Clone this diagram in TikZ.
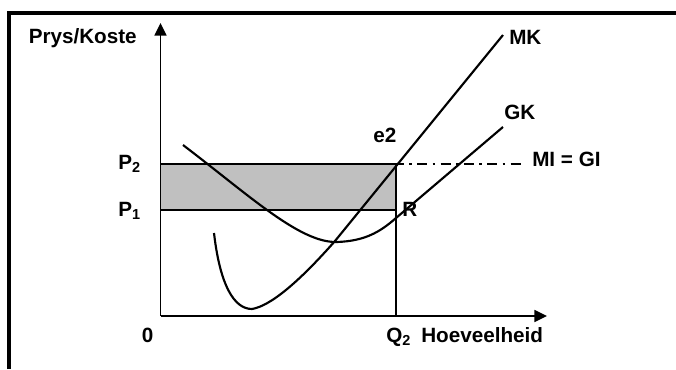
\documentclass[tikz,border=0pt]{standalone}
\usepackage{fontspec}
\setmainfont{Liberation Sans}
\usepackage{tikz}
\usetikzlibrary{arrows.meta, positioning, calc}
\definecolor{profitgray}{RGB}{192,192,192}
\tikzset{
  axis/.style={-{Triangle[length=9.5pt,width=9pt]}, line width=1.2pt},
  curve/.style={line width=1.6pt},
  guide/.style={line width=1.2pt},
  dashdot/.style={line width=1.2pt, dash pattern=on 7.5pt off 4pt on 2pt off 4pt},
  lbl/.style={font=\fontsize{15.5}{18}\selectfont\bfseries, inner sep=0pt}
}

\begin{document}
\begin{tikzpicture}[x=0.75pt, y=-0.75pt]
  \useasboundingbox (0,0) rectangle (676,369);

  % Frame
  \draw[line width=3pt] (9,369) -- (9,13) -- (676,13);

  % Points
  \coordinate (O) at (160.5,316);
  \coordinate (ytip) at (160.5,23);
  \coordinate (xtip) at (547,316);
  \coordinate (p2) at (160.5,164);
  \coordinate (p1) at (160.5,210);
  \coordinate (e2) at (396,164);
  \coordinate (r) at (396,210);
  \coordinate (q2) at (396,316);
  \coordinate (mig) at (523,164);

  % Profit area
  \fill[profitgray] (p2) rectangle (r);
  \draw[dashdot] (p2) -- (mig);
  \draw[guide] (p2) -- (e2);
  \draw[guide] (p1) -- (r);
  \draw[guide, line width=0.9pt] (e2) -- (q2);

  % Axes
  \draw[axis] (O) -- (ytip);
  \draw[axis] (O) -- (xtip);

  % MK
  \coordinate (mkS) at (214,233);
  \coordinate (mkMin) at (252,309);
  \coordinate (mkX) at (335,241);
  \coordinate (mkE) at (503,35);
  \draw[curve] (mkS) .. controls (220,285) and (234,309) .. (mkMin)
    .. controls (270,306) and (298,283) .. (mkX) -- (mkE);

  % GK
  \coordinate (gkS) at (183,145);
  \coordinate (gkMin) at (337,242);
  \coordinate (gkQ) at (396,218);
  \coordinate (gkE) at (503,127);
  \draw[curve] (gkS) .. controls (250,196) and (300,243) .. (gkMin)
    .. controls (365,241) and (380,232) .. (gkQ) -- (gkE);

  % Labels
  \node[lbl, anchor=base east] (yl) at (137,43.5) {Prys/Koste};
  \node[lbl, anchor=base] (zero) at (147.5,342) {0};
  \node[lbl, anchor=base west] (q2l) at (386,342) {Q\textsubscript{2}};
  \node[lbl, anchor=base west] (xl) at (421,342) {Hoeveelheid};
  \node[lbl, anchor=base west] (p2l) at (118,169.5) {P\textsubscript{2}};
  \node[lbl, anchor=base west] (p1l) at (118,216.5) {P\textsubscript{1}};
  \node[lbl, anchor=base west] (e2l) at (373,142) {e2};
  \node[lbl, anchor=base west] (rl) at (402,216) {R};
  \node[lbl, anchor=base west] (mkl) at (509,44) {MK};
  \node[lbl, anchor=base west] (gkl) at (504,119) {GK};
  \node[lbl, anchor=base west] (migl) at (532,166.5) {MI = GI};
\end{tikzpicture}
\end{document}
